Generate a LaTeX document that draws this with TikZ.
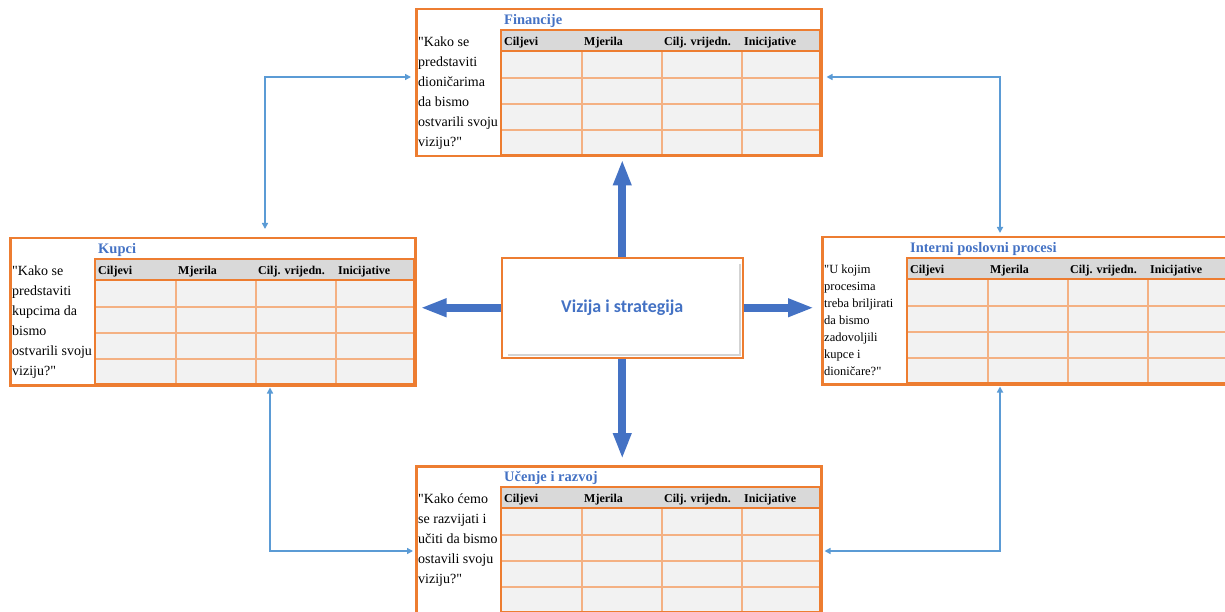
\documentclass[tikz,border=0pt]{standalone}
\usepackage{fontspec}
\setmainfont{Liberation Serif}
\newfontfamily\calibrifont{Carlito}
\usetikzlibrary{arrows.meta, positioning, shadows}

\definecolor{bscorange}{HTML}{ED7D31}
\definecolor{gridorange}{HTML}{F4B183}
\definecolor{cellgray}{HTML}{F2F2F2}
\definecolor{headgray}{HTML}{D9D9D9}
\definecolor{titleblue}{HTML}{4472C4}
\definecolor{linkblue}{HTML}{5B9BD5}

\tikzset{
    frame/.style={draw=bscorange, line width=2.5pt},
    gridline/.style={draw=gridorange, line width=1.5pt},
    panelbox/.style={frame, rectangle, minimum width=405pt, minimum height=147pt, inner sep=0pt, anchor=north west},
    paneltitle/.style={anchor=west, inner sep=0pt, text=titleblue, font=\fontsize{14.5}{17}\selectfont\bfseries},
    colhead/.style={anchor=west, inner sep=0pt, font=\fontsize{12}{14}\selectfont\bfseries},
    question/.style={anchor=north west, inner sep=0pt, align=left, font=\fontsize{14}{20}\selectfont}
}

\newcommand{\qq}{\textquotedbl}

% one perspective: name, x, y, title, question, extra question options
\newcommand{\bscpanel}[6]{%
  \begin{scope}[shift={(#2,#3)}]
    \fill[cellgray] (86,22) rectangle (405,147);
    \fill[headgray] (86,22) rectangle (405,43);
    \foreach \rowy in {70,96,122} \draw[gridline] (86,\rowy) -- (405,\rowy);
    \foreach \colx in {167,247,327} \draw[gridline] (\colx,43) -- (\colx,147);
    \draw[frame] (86,22) rectangle (405,147) (86,43) -- (405,43);
    \node[paneltitle] (#1title) at (89,13) {#4};
    \node[colhead] (#1goal) at (89,35) {Ciljevi};
    \node[colhead] (#1measure) at (169,35) {Mjerila};
    \node[colhead] (#1target) at (249,35) {Cilj. vrijedn.};
    \node[colhead] (#1init) at (329,35) {Inicijative};
    \node[question,#6] (#1q) at (3,29) {#5};
  \end{scope}
  \node[panelbox] (#1) at (#2,#3) {};
}

\begin{document}
\begin{tikzpicture}[
    x=1pt, y=-1pt,
    bigarrow/.style={draw=titleblue, line width=8pt, -{Triangle[length=26pt, width=17pt]}},
    link/.style={draw=linkblue, line width=1.5pt, {Triangle[length=6pt, width=6pt]}-{Triangle[length=6pt, width=6pt]}},
    visionbox/.style={fill=white, drop shadow={shadow xshift=2pt, shadow yshift=-2pt, opacity=0.35}, minimum width=233pt, minimum height=92pt, text=titleblue, font=\calibrifont\fontsize{18}{22}\selectfont\bfseries}
]
\useasboundingbox (0,0) rectangle (1225,612);

\bscpanel{fin}{415}{8}{Financije}{\qq Kako se\\predstaviti\\dioničarima\\da bismo\\ostvarili svoju\\viziju?\qq}{}
\bscpanel{kup}{9}{237}{Kupci}{\qq Kako se\\predstaviti\\kupcima da\\bismo\\ostvarili svoju\\viziju?\qq}{}
\bscpanel{int}{821}{236}{Interni poslovni procesi}{\qq U kojim\\procesima\\treba briljirati\\da bismo\\zadovoljili\\kupce i\\dioničare?\qq}{font=\fontsize{12.5}{17}\selectfont}
\bscpanel{uce}{415}{465}{Učenje i razvoj}{\qq Kako ćemo\\se razvijati i\\učiti da bismo\\ostavili svoju\\viziju?\qq}{}

\node[draw=bscorange, line width=1.5pt, minimum width=241pt, minimum height=100pt, anchor=north west] (vision) at (501,257) {};
\node[visionbox] (visiontext) at (vision.center) {Vizija i strategija};

\draw[bigarrow, shorten >=2pt] (vision.north) -- (vision.north |- fin.south);
\draw[bigarrow, shorten >=4pt] (vision.west) -- (vision.west -| kup.east);
\draw[bigarrow, shorten >=7pt] (vision.east) -- (vision.east -| int.west);
\draw[bigarrow, shorten >=6pt] (vision.south) -- (vision.south |- uce.north);

\coordinate (finkup) at (265,77);
\coordinate (finint) at (1000,77);
\coordinate (kupuce) at (270,551);
\coordinate (intuce) at (1000,551);

\draw[link, shorten <=4pt, shorten >=8pt] (finkup -| fin.west) -- (finkup) -- (finkup |- kup.north);
\draw[link, shorten <=4pt, shorten >=3pt] (finint -| fin.east) -- (finint) -- (finint |- int.north);
\draw[link, shorten <=1pt, shorten >=2pt] (kupuce |- kup.south) -- (kupuce) -- (kupuce -| uce.west);
\draw[link, shorten <=1pt, shorten >=2pt] (intuce |- int.south) -- (intuce) -- (intuce -| uce.east);

\end{tikzpicture}
\end{document}
